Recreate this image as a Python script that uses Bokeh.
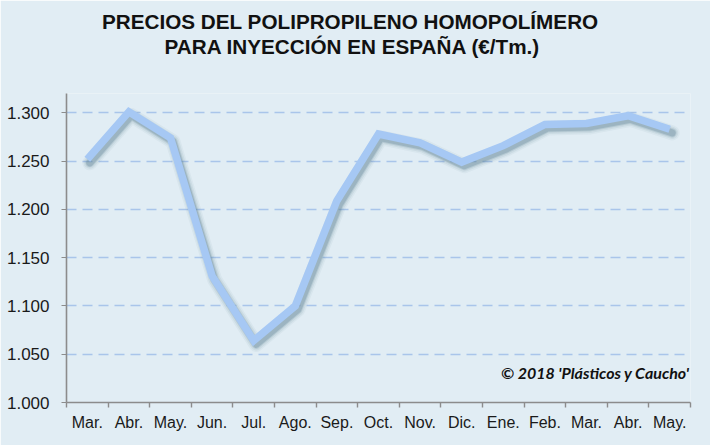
from bokeh.plotting import figure
from bokeh.models import Range1d, FixedTicker, Label, Title
from bokeh.embed import file_html
from bokeh.resources import INLINE

months = ["Mar.", "Abr.", "May.", "Jun.", "Jul.", "Ago.", "Sep.", "Oct.",
          "Nov.", "Dic.", "Ene.", "Feb.", "Mar.", "Abr.", "May."]
prices = [1252, 1301, 1274, 1131, 1064, 1100, 1209, 1278,
          1269, 1249, 1266, 1288, 1289, 1297, 1283]
y_ticks = [1000, 1050, 1100, 1150, 1200, 1250, 1300]
y_labels = ["1.000", "1.050", "1.100", "1.150", "1.200", "1.250", "1.300"]
title_line1 = "PRECIOS DEL POLIPROPILENO HOMOPOLÍMERO"
title_line2 = "PARA INYECCIÓN EN ESPAÑA (€/Tm.)"
credit = "© 2018 'Plásticos y Caucho'"

BG = "#e1edf4"
W, H = 710, 445
BL, BR, BT, BB = 66, 20, 93, 43
xs = list(range(len(months)))
x0, x1 = -0.5, len(months) - 0.5
y0, y1 = 1000, 1320

p = figure(width=W, height=H, output_backend="svg", toolbar_location=None,
           x_range=Range1d(x0, x1), y_range=Range1d(y0, y1),
           min_border_left=BL, min_border_right=BR, min_border_top=BT,
           min_border_bottom=BB, background_fill_color=BG,
           border_fill_color=BG, outline_line_color=None, title=None)

# title: spacer (closest to frame), then line 2, then line 1
p.add_layout(Title(text=" ", text_font_size="1px", standoff=33), "above")
for txt, off in [(title_line2, 98), (title_line1, 35.5)]:
    p.add_layout(Title(text=txt, align="left", offset=off, standoff=0,
                       text_font="Liberation Sans", text_font_size="20.7px",
                       text_font_style="bold", text_color="#111111"), "above")

# shadow ranges (shifted a few pixels down/right)
p.extra_y_ranges = {"sh": Range1d(y0 + 3.8, y1 + 3.8)}
p.extra_x_ranges = {"shx": Range1d(x0 - 0.06, x1 - 0.06)}

for w, a in [(15, 0.06), (12, 0.10), (9, 0.18), (7, 0.28)]:
    p.line(xs, prices, line_width=w, color="#5a7d90", alpha=a,
           line_join="round", line_cap="round",
           x_range_name="shx", y_range_name="sh")

p.line(xs, prices, line_width=7.5, color="#a6c8f4", line_join="miter",
       line_cap="butt")

# axes
p.xgrid.grid_line_color = None
p.ygrid.grid_line_color = "#a9c5ea"
p.ygrid.grid_line_width = 1.6
p.ygrid.grid_line_dash = "10 6"
p.ygrid.ticker = FixedTicker(ticks=y_ticks[1:])

p.yaxis.ticker = FixedTicker(ticks=y_ticks)
p.yaxis.major_label_overrides = {v: s for v, s in zip(y_ticks, y_labels)}
p.xaxis.ticker = FixedTicker(ticks=xs,
                             minor_ticks=[i - 0.5 for i in range(len(months) + 1)])
p.xaxis.major_label_overrides = {i: m for i, m in enumerate(months)}

for ax in (p.xaxis[0], p.yaxis[0]):
    ax.axis_line_color = "#8c8c8c"
    ax.axis_line_width = 1.6
    ax.major_label_text_font = "Liberation Sans"
    ax.major_label_text_color = "#1a1a1a"
    ax.major_tick_line_color = "#8c8c8c"
    ax.minor_tick_line_color = "#8c8c8c"
    ax.major_tick_in = 0
    ax.minor_tick_in = 0

p.yaxis.major_label_text_font_size = "17px"
p.xaxis.major_label_text_font_size = "16px"
p.yaxis.major_tick_out = 5
p.yaxis.minor_tick_out = 0
p.yaxis.major_label_standoff = 12
p.xaxis.major_tick_out = 0
p.xaxis.minor_tick_out = 5
p.xaxis.minor_tick_line_width = 1.4
p.xaxis.major_label_standoff = 6

lab = Label(x=x1 - 0.02, y=1031, text=credit, text_align="right",
            text_baseline="middle", text_font="Lato", text_font_size="16px",
            text_font_style="bold italic", text_color="#111111")
p.add_layout(lab)

open("out.html", "w").write(file_html(p, INLINE))
